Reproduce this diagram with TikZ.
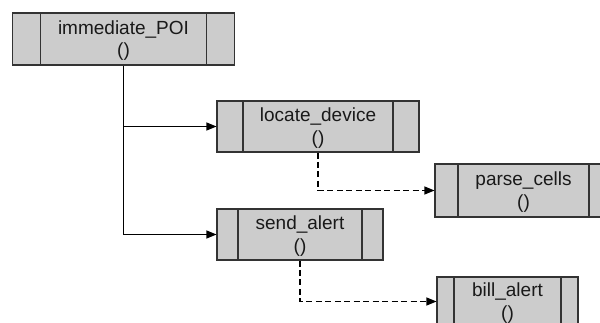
\documentclass[tikz,border=0pt]{standalone}
\usepackage{fontspec}
\setmainfont{Liberation Sans}
\usepackage{xcolor}
\usetikzlibrary{arrows.meta}

\definecolor{boxfill}{RGB}{204,204,204}
\definecolor{boxline}{RGB}{51,51,51}

\begin{document}
\begin{tikzpicture}[
    x=0.75pt,
    y=-0.75pt,
    font=\fontsize{14.25pt}{16.9pt}\selectfont,
    fnbox/.style={draw=boxline, fill=boxfill, line width=0.8pt, inner sep=0pt,
        align=center, text=black!90, text height=30pt, text depth=3pt,
        path picture={
            \draw[boxline, line width=0.8pt] ([xshift=#1]path picture bounding box.north west) -- ([xshift=#1]path picture bounding box.south west);
            \draw[boxline, line width=0.8pt] ([xshift=-#1]path picture bounding box.north east) -- ([xshift=-#1]path picture bounding box.south east);
        }},
    call/.style={draw=black, line width=0.8pt, -{Triangle[length=7.5pt, width=6pt]}},
    subcall/.style={call, dash pattern=on 4.5pt off 2.6pt}
]

    \clip (0,0) rectangle (600,323);

    % --- Function boxes ---
    \node[fnbox=21pt, minimum width=166.5pt, minimum height=39pt] (poi) at (123.5,39) {immediate\_POI\\()};
    \node[fnbox=19.5pt, minimum width=151.5pt, minimum height=38.25pt] (locate) at (318,126.5) {locate\_device\\()};
    \node[fnbox=17.25pt, minimum width=132.75pt, minimum height=39.75pt] (parse) at (523.5,190.5) {parse\_cells\\()};
    \node[fnbox=15.75pt, minimum width=124.5pt, minimum height=38.25pt] (send) at (300,234.5) {send\_alert\\()};
    \node[fnbox=12.75pt, minimum width=105.75pt, minimum height=36.75pt] (bill) at (507.5,301.5) {bill\_alert\\()};

    % --- Calls ---
    \coordinate (fork) at (poi.south |- locate.west);
    \draw[call] (poi.south) |- (send.west);
    \draw[call] (fork) -- (locate.west);
    \draw[subcall] (locate.south) |- (parse.west);
    \draw[subcall] (send.south) |- (bill.west);
\end{tikzpicture}
\end{document}
